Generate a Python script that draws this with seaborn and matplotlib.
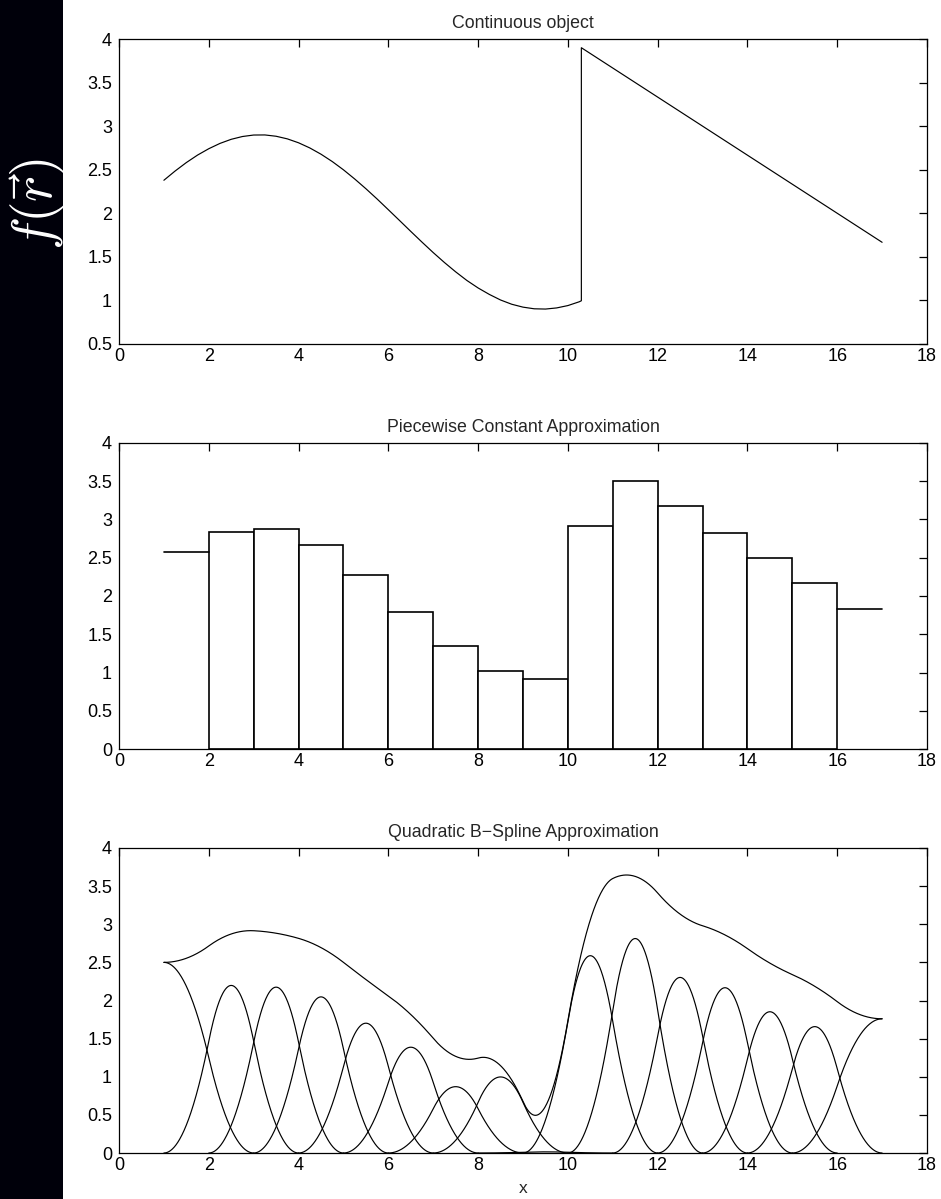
import numpy as np
import pandas as pd
import matplotlib
matplotlib.use("Agg")
import matplotlib.pyplot as plt
from matplotlib.patches import Rectangle
import seaborn as sns

# ---------------- data ----------------
# Continuous object: smooth part and linear part
cont_x = [1.0, 1.25, 1.5, 1.75, 2.0, 2.25, 2.5, 2.75, 3.0, 3.25, 3.5, 3.75, 4.0,
          4.25, 4.5, 4.75, 5.0, 5.25, 5.5, 5.75, 6.0, 6.25, 6.5, 6.75, 7.0, 7.25,
          7.5, 7.75, 8.0, 8.25, 8.5, 8.75, 9.0, 9.25, 9.5, 9.75, 10.0, 10.25, 10.3,
          10.3, 17.0]
cont_y = [2.379, 2.485, 2.582, 2.668, 2.741, 2.802, 2.849, 2.881, 2.898, 2.899,
          2.884, 2.854, 2.809, 2.750, 2.678, 2.594, 2.499, 2.394, 2.282, 2.164,
          2.041, 1.917, 1.792, 1.669, 1.549, 1.435, 1.328, 1.229, 1.143, 1.069,
          1.005, 0.956, 0.923, 0.904, 0.901, 0.914, 0.941, 0.984, 0.996,
          3.900, 1.667]

# Piecewise constant approximation (cell averages on unit cells 1..17)
pc_left = [1, 2, 3, 4, 5, 6, 7, 8, 9, 10, 11, 12, 13, 14, 15, 16]
pc_vals = [2.57, 2.84, 2.88, 2.67, 2.28, 1.79, 1.34, 1.02, 0.91,
           2.92, 3.50, 3.17, 2.83, 2.50, 2.17, 1.83]

# Quadratic B-spline coefficients
bs_centers = [2.5, 3.5, 4.5, 5.5, 6.5, 7.5, 8.5, 9.5, 10.5, 11.5, 12.5, 13.5, 14.5, 15.5]
bs_coefs = [2.93, 2.90, 2.73, 2.27, 1.85, 1.16, 1.33, 0.02, 3.45, 3.75, 3.07, 2.89, 2.47, 2.21]
bs_left_coef = 2.50    # mirrored boundary basis at x = 1
bs_right_coef = 1.76   # mirrored boundary basis at x = 17

titles = ["Continuous object", "Piecewise Constant Approximation",
          "Quadratic B\u2212Spline Approximation"]
xticks = [0, 2, 4, 6, 8, 10, 12, 14, 16, 18]
yticks_top = [0.5, 1, 1.5, 2, 2.5, 3, 3.5, 4]
yticks = [0, 0.5, 1, 1.5, 2, 2.5, 3, 3.5, 4]
ytick_labels_top = ["0.5", "1", "1.5", "2", "2.5", "3", "3.5", "4"]
ytick_labels = ["0", "0.5", "1", "1.5", "2", "2.5", "3", "3.5", "4"]

# ---------------- style ----------------
sns.set_style("white")
plt.rcParams["font.family"] = ["Liberation Sans", "DejaVu Sans"]
plt.rcParams["mathtext.fontset"] = "cm"
plt.rcParams["axes.edgecolor"] = "black"
plt.rcParams["axes.linewidth"] = 0.9

W, H = 941, 1199
fig = plt.figure(figsize=(W / 100, H / 100), dpi=100)
fig.patch.set_facecolor("white")

# black strip on the left with the function label
fig.patches.append(Rectangle((0, 0), 63 / W, 1, transform=fig.transFigure,
                             facecolor="#00000a", edgecolor="none", zorder=0))
fig.text(39 / W, 1 - 204 / H, r"$f(\vec{r})$", rotation=90, color="white",
         fontsize=40, ha="center", va="center")

left, right = 119 / W, 927 / W
boxes = [(39, 344), (443, 749), (848, 1153)]
axes = []
for (t, b) in boxes:
    ax = fig.add_axes([left, 1 - b / H, right - left, (b - t) / H])
    axes.append(ax)

LW = 0.85

# ---- panel 1: continuous object ----
ax = axes[0]
df1 = pd.DataFrame({"x": cont_x, "y": cont_y})
sns.lineplot(data=df1, x="x", y="y", ax=ax, sort=False, estimator=None,
             color="black", linewidth=LW)

# ---- panel 2: piecewise constant ----
ax = axes[1]
bar_centers = [l + 0.5 for l in pc_left[1:-1]]
bar_vals = pc_vals[1:-1]
sns.barplot(x=bar_centers, y=bar_vals, native_scale=True, width=1.0, ax=ax,
            color="white", edgecolor="black", linewidth=1.2, errorbar=None,
            saturation=1)
for l, v in [(pc_left[0], pc_vals[0]), (pc_left[-1], pc_vals[-1])]:
    sns.lineplot(x=[l, l + 1], y=[v, v], ax=ax, color="black", linewidth=1.2,
                 estimator=None)

# ---- panel 3: quadratic B-spline ----
ax = axes[2]

def qb(t):
    t = np.abs(t)
    return np.where(t <= 0.5, 0.75 - t ** 2,
                    np.where(t <= 1.5, 0.5 * (1.5 - t) ** 2, 0.0))

grid = np.linspace(1, 17, 1601)
total = np.zeros_like(grid)
curves = []
cl = bs_left_coef * (qb(grid - 0.5) + qb(grid - 1.5))
curves.append((grid, cl, grid <= 3.0))
total += cl
for c, k in zip(bs_centers, bs_coefs):
    cv = k * qb(grid - c)
    total += cv
    curves.append((grid, cv, (grid >= c - 1.5) & (grid <= c + 1.5)))
cr = bs_right_coef * (qb(grid - 16.5) + qb(grid - 17.5))
curves.append((grid, cr, grid >= 15.0))
total += cr

for gx, gy, m in curves:
    sns.lineplot(x=gx[m], y=gy[m], ax=ax, color="black", linewidth=LW,
                 estimator=None, sort=False)
sns.lineplot(x=grid, y=total, ax=ax, color="black", linewidth=LW,
             estimator=None, sort=False)
ax.set_xlabel("x", fontsize=12.5, labelpad=5)

# ---- common axis styling ----
for i, ax in enumerate(axes):
    ax.set_xlim(0, 18)
    ax.set_xticks(xticks)
    ax.set_xticklabels([str(v) for v in xticks])
    if i == 0:
        ax.set_ylim(0.5, 4)
        ax.set_yticks(yticks_top)
        ax.set_yticklabels(ytick_labels_top)
    else:
        ax.set_ylim(0, 4)
        ax.set_yticks(yticks)
        ax.set_yticklabels(ytick_labels)
    if i != 2:
        ax.set_xlabel("")
    ax.set_ylabel("")
    ax.set_title(titles[i], fontsize=12.8, pad=8)
    ax.tick_params(direction="in", length=6, width=0.9, top=True, right=True,
                   labelsize=13, colors="black")
    ax.tick_params(axis="x", pad=3)
    ax.tick_params(axis="y", pad=5)
    for s in ax.spines.values():
        s.set_visible(True)
        s.set_color("black")
        s.set_linewidth(0.9)
    ax.set_facecolor("white")

fig.savefig("out.png", dpi=100, facecolor="white")
